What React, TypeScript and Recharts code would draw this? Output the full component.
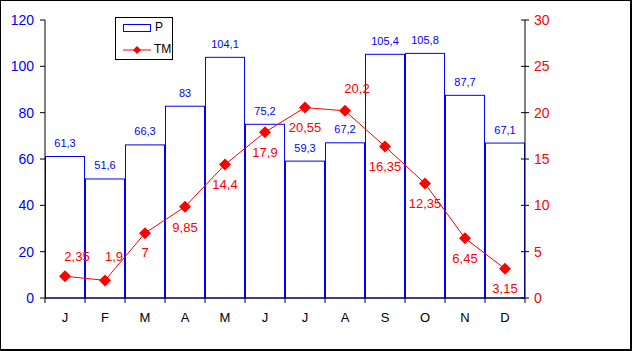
import { ComposedChart, Bar, Line, XAxis, YAxis, LabelList } from 'recharts';

const months = ['J', 'F', 'M', 'A', 'M', 'J', 'J', 'A', 'S', 'O', 'N', 'D'];
const precip = [61.3, 51.6, 66.3, 83, 104.1, 75.2, 59.3, 67.2, 105.4, 105.8, 87.7, 67.1];
const temp = [2.35, 1.9, 7, 9.85, 14.4, 17.9, 20.55, 20.2, 16.35, 12.35, 6.45, 3.15];
const leftTicks = [0, 20, 40, 60, 80, 100, 120];
const rightTicks = [0, 5, 10, 15, 20, 25, 30];

// where each TM label sits relative to its point (excel placed them by hand-ish)
const labelNudge: [number, number][] = [
  [12, -20], [9, -24], [0, 19], [0, 21], [0, 20], [0, 20],
  [0, 20], [12, -22], [0, 20], [0, 20], [0, 20], [0, 20],
];

const data = months.map((m, i) => ({ month: m, P: precip[i], TM: temp[i] }));

const BLUE = '#0000ff';
const RED = '#ff0000';
const W = 632;
const H = 351;
const margin = { top: 20, right: 67, bottom: 23, left: 0 };
const band = (W - margin.left - margin.right - 45 - 40) / months.length;

const comma = (v: number) => String(v).replace('.', ',');

const BarShape = (props: any) => {
  const { x, y, width, height } = props;
  return (
    <rect x={x + 0.5} y={y + 0.5} width={width - 1} height={Math.max(height - 0.5, 0)} fill="#fff" stroke={BLUE} strokeWidth={1} />
  );
};

const Diamond = (props: any) => {
  const { cx, cy } = props;
  if (cx == null || cy == null) return null;
  return <polygon points={`${cx},${cy - 6} ${cx + 6},${cy} ${cx},${cy + 6} ${cx - 6},${cy}`} fill={RED} />;
};

const TempLabel = (props: any) => {
  const { x, y, value, index } = props;
  const [dx, dy] = labelNudge[index] || [0, 20];
  return (
    <text x={x + dx} y={y + dy} textAnchor="middle" dominantBaseline="central" fill={RED} fontSize={13}>
      {comma(value)}
    </text>
  );
};

const MonthTick = (props: any) => {
  const { x, y, payload, index } = props;
  return (
    <g>
      <line x1={x - band / 2} x2={x - band / 2} y1={y} y2={y + 5} stroke="#000" />
      {index === months.length - 1 && <line x1={x + band / 2} x2={x + band / 2} y1={y} y2={y + 5} stroke="#000" />}
      <text x={x} y={y + 19} textAnchor="middle" dominantBaseline="central" fill="#000" fontSize={13}>
        {payload.value}
      </text>
    </g>
  );
};

const RightTick = (props: any) => {
  const { x, y, payload } = props;
  return (
    <g>
      <line x1={x - 4} x2={x + 4} y1={y} y2={y} stroke="#000" />
      <text x={x + 9} y={y} textAnchor="start" dominantBaseline="central" fill={RED} fontSize={14}>
        {payload.value}
      </text>
    </g>
  );
};

function ChartLegend() {
  return (
    <div
      style={{
        position: 'absolute', left: 115, top: 17, width: 58, height: 43, boxSizing: 'border-box',
        border: '1px solid #000', background: '#fff', fontSize: 12, color: '#000',
      }}
    >
      <div style={{ position: 'absolute', left: 7, top: 6, width: 28, height: 8, boxSizing: 'border-box', border: `1px solid ${BLUE}` }} />
      <span style={{ position: 'absolute', left: 39, top: 2 }}>P</span>
      <svg style={{ position: 'absolute', left: 7, top: 26 }} width={29} height={12}>
        <line x1={0} x2={28} y1={6} y2={6} stroke={RED} />
        <polygon points="14,2 18,6 14,10 10,6" fill={RED} />
      </svg>
      <span style={{ position: 'absolute', left: 38, top: 24 }}>TM</span>
    </div>
  );
}

export default function App() {
  return (
    <div style={{ position: 'absolute', left: 0, top: 0, width: W, height: H, background: '#fff', fontFamily: '"Liberation Sans", Arial, sans-serif' }}>
      <ComposedChart width={W} height={H} data={data} margin={margin} barCategoryGap={0} barGap={0}>
        <XAxis
          dataKey="month"
          interval={0}
          stroke="#000"
          tickLine={false}
          tickSize={0}
          tickMargin={0}
          height={30}
          tick={<MonthTick />}
        />
        <YAxis
          yAxisId="left"
          orientation="left"
          width={45}
          domain={[0, 120]}
          ticks={leftTicks}
          stroke="#000"
          tickSize={5}
          tickMargin={6}
          tick={{ fill: BLUE, fontSize: 14 }}
        />
        <YAxis
          yAxisId="right"
          orientation="right"
          width={40}
          domain={[0, 30]}
          ticks={rightTicks}
          stroke="#000"
          tickLine={false}
          tickSize={0}
          tickMargin={0}
          tick={<RightTick />}
        />
        <Bar yAxisId="left" dataKey="P" shape={<BarShape />} isAnimationActive={false}>
          <LabelList dataKey="P" position="top" offset={9} fill={BLUE} fontSize={11} formatter={(v: any) => comma(v)} />
        </Bar>
        <Line
          yAxisId="right"
          dataKey="TM"
          stroke={RED}
          strokeWidth={1}
          dot={<Diamond />}
          activeDot={false}
          isAnimationActive={false}
        >
          <LabelList dataKey="TM" content={<TempLabel />} />
        </Line>
      </ComposedChart>
      <ChartLegend />
      <div
        style={{
          position: 'absolute', left: 0, top: 0, width: W, height: H, boxSizing: 'border-box', pointerEvents: 'none',
          borderTop: '1px solid #000', borderLeft: '1px solid #000', borderRight: '2px solid #000', borderBottom: '2px solid #000',
        }}
      />
    </div>
  );
}
